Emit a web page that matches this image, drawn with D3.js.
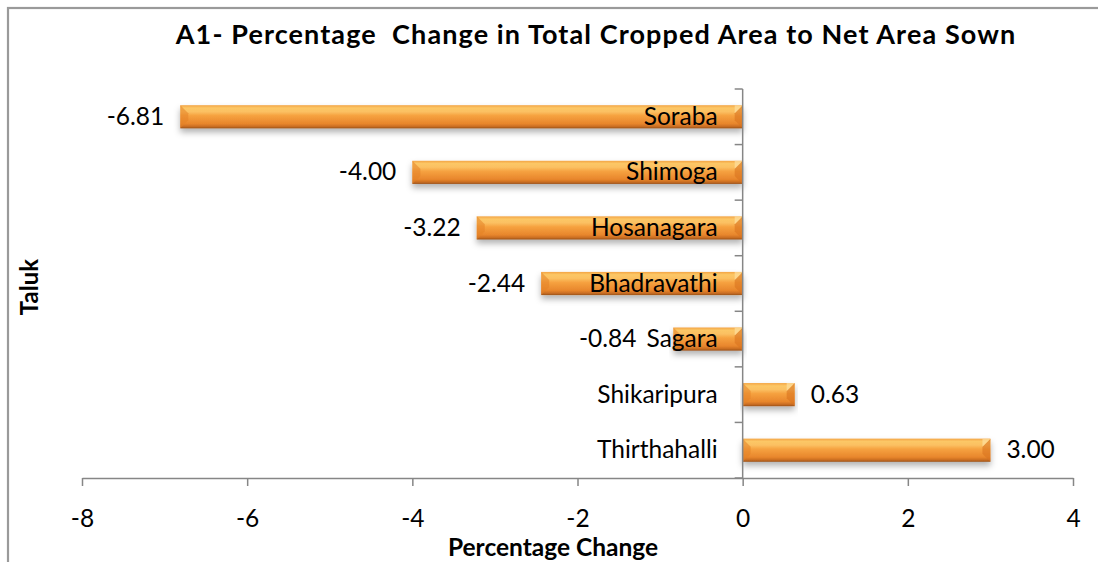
<!DOCTYPE html>
<html>
<head>
<meta charset="utf-8">
<script src="https://cdn.jsdelivr.net/npm/d3@7"></script>
<style>
  html, body { margin: 0; padding: 0; background: #fff; overflow: hidden; }
  text { font-family: Lato, "Open Sans", sans-serif; fill: #000; }
</style>
</head>
<body>
<svg id="chart" width="1098" height="562"></svg>
<script>
const taluks = ["Soraba", "Shimoga", "Hosanagara", "Bhadravathi", "Sagara", "Shikaripura", "Thirthahalli"];
const changes = [-6.81, -4.00, -3.22, -2.44, -0.84, 0.63, 3.00];
const xTicks = [-8, -6, -4, -2, 0, 2, 4];

const svg = d3.select("#chart");
const W = 1098, H = 562;
const labelSize = "24.5px";

const x = d3.scaleLinear().domain([-8, 4]).range([82, 1073]);
const y = d3.scaleBand().domain(taluks).range([89, 478])
  .paddingInner(0.583).paddingOuter(0.2915);

// plain hyphen for negatives, like the original
const fmt = v => d3.format(".2f")(v).replace("\u2212", "-");
const fmtTick = v => d3.format("d")(v).replace("\u2212", "-");

const defs = svg.append("defs");

// bar fill, light top band and darker bottom edge
const grad = defs.append("linearGradient")
  .attr("id", "barGrad").attr("x1", 0).attr("y1", 0).attr("x2", 0).attr("y2", 1);
[["0%", "#f3a444"], ["12%", "#fcc766"], ["28%", "#fbc062"], ["45%", "#f6a240"],
 ["80%", "#e8862c"], ["92%", "#c96d22"], ["100%", "#9a5219"]]
  .forEach(([o, c]) => grad.append("stop").attr("offset", o).attr("stop-color", c));

const shadow = defs.append("filter").attr("id", "shadow")
  .attr("x", "-5%").attr("y", "-30%").attr("width", "110%").attr("height", "180%");
shadow.append("feDropShadow").attr("dx", 0).attr("dy", 4).attr("stdDeviation", 3)
  .attr("flood-color", "#000").attr("flood-opacity", 0.3);

// frame
svg.append("rect")
  .attr("x", 8).attr("y", 8).attr("width", W + 50).attr("height", H + 50)
  .attr("fill", "none").attr("stroke", "#9a9a9a").attr("stroke-width", 2.2);

// title
svg.append("text")
  .attr("x", 596).attr("y", 44)
  .attr("text-anchor", "middle")
  .style("font-weight", "bold").style("font-size", "27px")
  .style("letter-spacing", "1.1px")
  .style("white-space", "pre")
  .text("A1- Percentage  Change in Total Cropped Area to Net Area Sown");

// bars
const bw = y.bandwidth();
const bars = svg.append("g");
taluks.forEach((t, i) => {
  const v = changes[i];
  const x0 = Math.min(x(v), x(0)), x1 = Math.max(x(v), x(0));
  const y0 = y(t), y1 = y0 + bw;
  const g = bars.append("g").attr("filter", "url(#shadow)");
  g.append("rect")
    .attr("x", x0).attr("y", y0).attr("width", x1 - x0).attr("height", bw)
    .attr("fill", "url(#barGrad)");
  // bevel facets at the ends
  const b = Math.min(8, (x1 - x0) / 2);
  g.append("path")
    .attr("d", `M${x0},${y0}L${x0 + b},${y0 + b}L${x0 + b},${y1 - b}L${x0},${y1}Z`)
    .attr("fill", "#e48226").attr("opacity", 0.55);
  g.append("path")
    .attr("d", `M${x1},${y0}L${x1 - b},${y0 + b}L${x1 - b},${y1 - b}L${x1},${y1}Z`)
    .attr("fill", "#d8731f").attr("opacity", 0.6);
  g.append("path")
    .attr("d", `M${x1},${y0}L${x1 - b},${y0 + b}L${x1 - b},${y0}Z`)
    .attr("fill", "#fde0a0").attr("opacity", 0.7);
});

// x axis
const xAxis = svg.append("g").attr("transform", `translate(0,${y.range()[1]})`)
  .call(d3.axisBottom(x).tickValues(xTicks).tickSize(8).tickSizeOuter(0).tickPadding(0).tickFormat(fmtTick));
xAxis.select(".domain").attr("stroke", "#868686").attr("stroke-width", 1.5);
xAxis.selectAll(".tick line").attr("stroke", "#868686").attr("stroke-width", 1.5);
xAxis.selectAll(".tick text")
  .attr("y", 49).attr("dy", 0)
  .style("font-size", labelSize).style("font-family", "Lato, sans-serif").attr("fill", "#000");

// y axis at zero with ticks on band boundaries
const yAxis = svg.append("g");
yAxis.append("line")
  .attr("x1", x(0)).attr("x2", x(0)).attr("y1", y.range()[0]).attr("y2", y.range()[1])
  .attr("stroke", "#868686").attr("stroke-width", 1.5);
const step = y.step();
d3.range(taluks.length + 1).forEach(k => {
  const ty = y.range()[0] + k * step;
  yAxis.append("line")
    .attr("x1", x(0) - 8).attr("x2", x(0)).attr("y1", ty).attr("y2", ty)
    .attr("stroke", "#868686").attr("stroke-width", 1.5);
});

// category labels
const catLabels = svg.append("g").selectAll("text").data(taluks).join("text")
  .attr("x", x(0) - 25)
  .attr("y", d => y(d) + bw / 2 + 8)
  .attr("text-anchor", "end")
  .style("font-size", labelSize)
  .text(d => d);

// value labels, negatives kept clear of the category label
catLabels.each(function (d, i) {
  const v = changes[i];
  const left = this.getBBox().x;
  let lx, anchor;
  if (v < 0) {
    lx = Math.min(x(v) - 16, left - 10);
    anchor = "end";
  } else {
    lx = x(v) + 16;
    anchor = "start";
  }
  svg.append("text")
    .attr("x", lx).attr("y", y(d) + bw / 2 + 8)
    .attr("text-anchor", anchor)
    .style("font-size", labelSize)
    .text(fmt(v));
});

// axis titles
svg.append("text")
  .attr("x", 553).attr("y", 556)
  .attr("text-anchor", "middle")
  .style("font-weight", "bold").style("font-size", "24.5px")
  .text("Percentage Change");

svg.append("text")
  .attr("transform", "translate(38,287) rotate(-90)")
  .attr("text-anchor", "middle")
  .style("font-weight", "bold").style("font-size", "24px")
  .text("Taluk");
</script>
</body>
</html>
